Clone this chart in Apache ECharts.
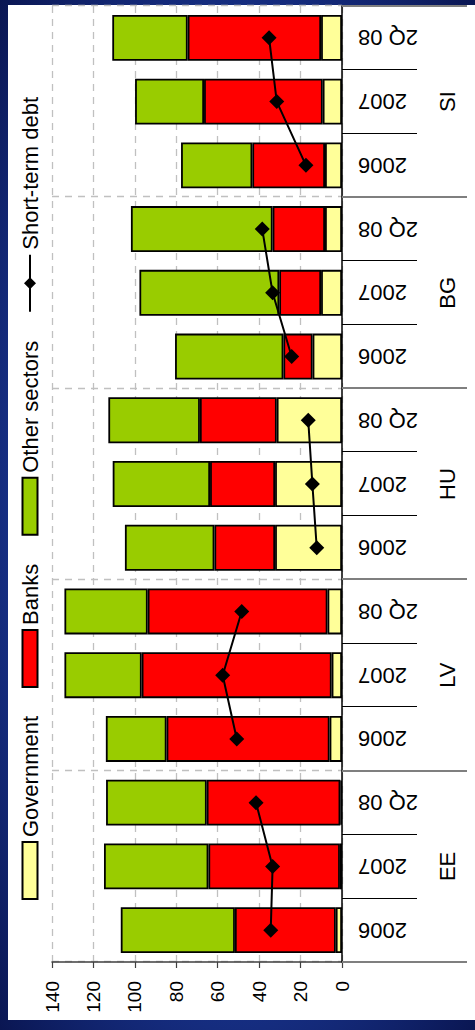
<!DOCTYPE html>
<html>
<head>
<meta charset="utf-8">
<script src="https://cdn.jsdelivr.net/npm/echarts@6/dist/echarts.min.js"></script>
<style>
  html, body {
    margin: 0; padding: 0; width: 475px; height: 1030px; overflow: hidden;
    background: radial-gradient(ellipse at 50% 50%, #2d50c4 0%, #1b3896 55%, #0a1652 100%);
  }
  /* chart is laid out landscape and turned a quarter turn counter-clockwise */
  #wrap {
    position: absolute; left: 0; top: 0; width: 1030px; height: 475px;
    transform-origin: 0 0; transform: translateY(1030px) rotate(-90deg);
  }
  #panel { position: absolute; left: 10px; top: 8px; width: 1015px; height: 467px; background: #ffffff; }
  #chart { position: absolute; left: 0; top: 0; width: 1030px; height: 475px; }
</style>
</head>
<body>
<div id="wrap">
  <div id="panel"></div>
  <div id="chart"></div>
</div>
<script>
// Periods shown for each country
const years = ['2006', '2007', '2Q 08', '2006', '2007', '2Q 08', '2006', '2007', '2Q 08',
               '2006', '2007', '2Q 08', '2006', '2007', '2Q 08'];
const countries = ['EE', 'LV', 'HU', 'BG', 'SI'];

// External debt by sector (stacked)
const government   = [3.0, 1.0, 0.8, 6.0, 5.0, 7.0, 32.3, 32.3, 31.5, 14.2, 10.1, 8.2, 8.2, 9.3, 10.1];
const banks        = [48.7, 63.5, 64.5, 78.7, 91.7, 86.8, 29.3, 31.4, 37.1, 14.1, 20.2, 25.3, 35.1, 57.3, 64.4];
const otherSectors = [55.1, 50.4, 48.6, 29.3, 37.3, 40.2, 43.2, 47.0, 44.2, 52.3, 67.5, 68.4, 34.4, 33.3, 36.4];
// Short-term debt
const shortTerm    = [34.4, 33.5, 41.5, 50.8, 57.6, 48.4, 12.2, 14.3, 16.3, 24.3, 33.5, 38.5, 17.4, 31.5, 35.2];

const valueTicks = { min: 0, max: 140, step: 20 };

const FONT = "'Liberation Sans', Arial, Helvetica, sans-serif";
const barBorder = { borderColor: '#000000', borderWidth: 1.8 };
const perCountry = years.length / countries.length;

// one line segment per country, so the line breaks between groups
const shortTermSeries = countries.map(function (c, ci) {
  const data = shortTerm.map(function (v, i) {
    return Math.floor(i / perCountry) === ci ? v : '-';
  });
  return {
    name: 'Short-term debt', type: 'line', data: data, z: 5,
    symbol: 'diamond', symbolSize: 15, connectNulls: false,
    lineStyle: { color: '#000', width: 2 },
    itemStyle: { color: '#000', borderColor: '#000', borderWidth: 0 }
  };
});

const chart = echarts.init(document.getElementById('chart'), null, { renderer: 'svg', width: 1030, height: 475 });

chart.setOption({
  animation: false,
  backgroundColor: 'transparent',
  textStyle: { fontFamily: FONT, color: '#000' },
  legend: {
    left: 130, top: 19, padding: 0,
    itemWidth: 57, itemHeight: 15, itemGap: 28,
    textStyle: { fontSize: 22, fontFamily: FONT, color: '#000' },
    data: [
      { name: 'Government', icon: 'rect' },
      { name: 'Banks', icon: 'rect' },
      { name: 'Other sectors', icon: 'rect' },
      { name: 'Short-term debt' }
    ]
  },
  grid: { left: 68, right: 6, top: 52, bottom: 133, containLabel: false },
  xAxis: [
    {
      type: 'category', data: years, position: 'bottom',
      axisLine: { show: true, lineStyle: { color: '#000', width: 1.5 } },
      axisTick: { show: true, interval: 0, length: 75, lineStyle: { color: '#000', width: 1 } },
      axisLabel: { interval: 0, rotate: 90, margin: 16, fontSize: 22, fontFamily: FONT, color: '#000' },
      splitLine: { show: false }
    },
    {
      type: 'category', data: countries, position: 'bottom',
      axisLine: { show: false },
      axisTick: { show: true, interval: 0, length: 125, lineStyle: { color: '#7f7f7f', width: 2 } },
      axisLabel: { interval: 0, margin: 94, fontSize: 22, fontFamily: FONT, color: '#000' },
      splitLine: { show: true, interval: 0, lineStyle: { color: '#c0c0c0', width: 1.3, type: [7, 6] } }
    }
  ],
  yAxis: {
    type: 'value', min: valueTicks.min, max: valueTicks.max, interval: valueTicks.step,
    axisLine: { show: true, lineStyle: { color: '#404040', width: 1.5 } },
    axisTick: { show: true, length: 6, lineStyle: { color: '#404040', width: 1.2 } },
    axisLabel: { margin: 19, fontSize: 19, fontFamily: FONT, color: '#000' },
    splitLine: { show: true, lineStyle: { color: '#c0c0c0', width: 1.3, type: [7, 6] } }
  },
  series: [
    { name: 'Government', type: 'bar', stack: 'debt', data: government, barCategoryGap: '28%',
      itemStyle: Object.assign({ color: '#FFFF99' }, barBorder) },
    { name: 'Banks', type: 'bar', stack: 'debt', data: banks, barCategoryGap: '28%',
      itemStyle: Object.assign({ color: '#FF0000' }, barBorder) },
    { name: 'Other sectors', type: 'bar', stack: 'debt', data: otherSectors, barCategoryGap: '28%',
      itemStyle: Object.assign({ color: '#99CC00' }, barBorder) }
  ].concat(shortTermSeries)
});
</script>
</body>
</html>
